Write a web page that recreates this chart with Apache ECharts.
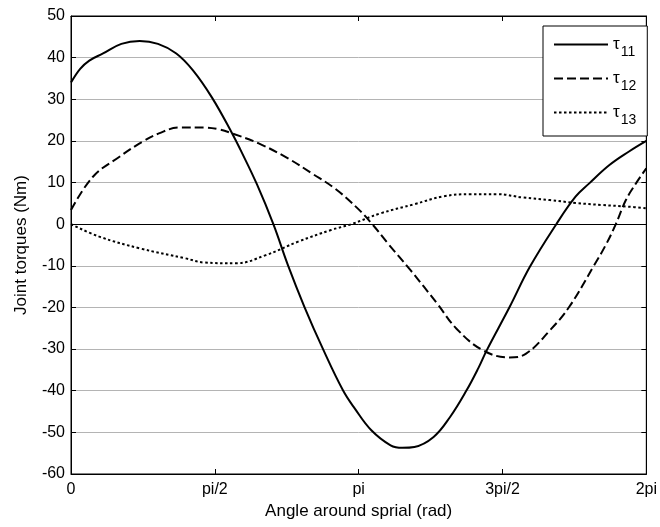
<!DOCTYPE html>
<html>
<head>
<meta charset="utf-8">
<script src="https://cdn.jsdelivr.net/npm/echarts@6/dist/echarts.min.js"></script>
<style>html,body{margin:0;padding:0;background:#fff}#c{width:660px;height:527px}</style>
</head>
<body>
<div id="c"></div>
<script>
const seriesNames = ['τ11', 'τ12', 'τ13'];
const xTickLabels = ['0', 'pi/2', 'pi', '3pi/2', '2pi'];
const yTicks = [-60, -50, -40, -30, -20, -10, 0, 10, 20, 30, 40, 50];

// angle (rad) and torque (Nm) for each joint
const tau11X = [0, 0.10, 0.20, 0.35, 0.55, 0.75, 0.95, 1.15, 1.33, 1.54, 1.76, 1.85, 2.03, 2.21, 2.37, 2.55, 2.75, 2.97, 3.10, 3.28, 3.49, 3.62, 3.75, 3.96, 4.14, 4.32, 4.45, 4.54, 4.79, 5.01, 5.30, 5.51, 5.66, 5.88, 6.09, 6.283];
const tau11Y = [34.0, 37.3, 39.3, 41.0, 43.3, 44.0, 43.3, 41.0, 37.0, 30.4, 21.8, 17.9, 9.6, 0.0, -9.9, -19.9, -29.9, -39.9, -44.3, -49.5, -53.1, -53.7, -53.5, -51.1, -46.3, -39.9, -34.5, -30.3, -19.9, -10.3, 0.0, 6.6, 9.8, 14.2, 17.4, 20.0];

const tau12X = [0, 0.24, 0.53, 0.78, 0.96, 1.18, 1.47, 1.61, 1.76, 2.05, 2.37, 2.63, 2.88, 3.13, 3.29, 3.46, 3.71, 4.00, 4.21, 4.50, 4.79, 4.97, 5.23, 5.44, 5.71, 5.84, 5.95, 6.06, 6.17, 6.283];
const tau12Y = [3.4, 11.4, 16.2, 19.8, 21.8, 23.2, 23.2, 22.8, 21.8, 19.4, 15.8, 12.2, 8.6, 3.8, 0.0, -4.6, -11.1, -19.1, -25.1, -30.3, -32.0, -31.1, -25.5, -19.9, -10.0, -5.0, 0.0, 5.8, 9.8, 13.4];

const tau13X = [0, 0.31, 0.75, 1.25, 1.45, 1.80, 2.12, 2.48, 2.84, 3.06, 3.38, 3.75, 4.07, 4.36, 4.65, 4.94, 5.23, 5.51, 5.80, 6.09, 6.283];
const tau13Y = [0.0, -3.0, -5.8, -8.2, -9.2, -9.4, -7.5, -4.2, -1.4, 0.0, 2.6, 4.8, 6.7, 7.2, 7.2, 6.4, 5.8, 5.1, 4.6, 4.2, 3.8];

const zip = (xs, ys) => xs.map((x, i) => [x, ys[i]]);
const FONT = 'Liberation Sans, Arial, sans-serif';
const HALF_PI = Math.PI / 2;
const xFmt = v => {
  const k = Math.round(v / HALF_PI);
  return Math.abs(v - k * HALF_PI) < 1e-6 ? (xTickLabels[k] || '') : '';
};

const chart = echarts.init(document.getElementById('c'), null, {renderer: 'canvas'});
const lineTypes = ['solid', [9, 4], [2.5, 2.5]];
const datasets = [zip(tau11X, tau11Y), zip(tau12X, tau12Y), zip(tau13X, tau13Y)];

const series = seriesNames.map((n, i) => ({
  name: n,
  type: 'line',
  data: datasets[i],
  smooth: 0.4,
  symbol: 'none',
  showSymbol: false,
  lineStyle: {color: '#000', width: 2, type: lineTypes[i]},
  itemStyle: {color: '#000'},
  z: 5
}));
series[0].markLine = {
  silent: true,
  symbol: 'none',
  label: {show: false},
  lineStyle: {color: '#000', width: 1, type: 'solid'},
  data: [{yAxis: 0}],
  z: 3
};

chart.setOption({
  animation: false,
  backgroundColor: '#fff',
  grid: {left: 71, right: 9, top: 16, bottom: 53, show: true, borderColor: '#000', borderWidth: 1, backgroundColor: 'transparent'},
  legend: {
    orient: 'vertical',
    left: 543,
    top: 26,
    padding: [10, 11, 9, 10],
    itemGap: 11,
    itemWidth: 54,
    itemHeight: 14,
    itemTextGap: 8,
    backgroundColor: '#fff',
    borderColor: '#000',
    borderWidth: 1,
    borderRadius: 0,
    itemStyle: {opacity: 0},
    data: seriesNames,
    formatter: n => '{t|' + n.charAt(0) + '}{s|' + n.slice(1) + '}',
    textStyle: {
      color: '#000',
      fontFamily: FONT,
      rich: {
        t: {fontSize: 17, fontFamily: FONT, color: '#000'},
        s: {fontSize: 14, fontFamily: FONT, color: '#000', padding: [15, 0, 0, 1]}
      }
    }
  },
  xAxis: [{
    type: 'value',
    min: 0,
    max: 2 * Math.PI,
    interval: HALF_PI,
    name: 'Angle around sprial (rad)',
    nameLocation: 'middle',
    nameGap: 29,
    nameTextStyle: {color: '#000', fontSize: 17, fontFamily: FONT},
    axisLine: {show: true, onZero: false, lineStyle: {color: '#000', width: 1}},
    axisTick: {show: true, inside: true, length: 5, lineStyle: {color: '#000'}},
    axisLabel: {color: '#000', fontSize: 16, fontFamily: FONT, margin: 8, formatter: xFmt, showMaxLabel: true, showMinLabel: true},
    splitLine: {show: false}
  }, {
    type: 'value',
    position: 'top',
    min: 0,
    max: 2 * Math.PI,
    interval: HALF_PI,
    axisLine: {show: true, onZero: false, lineStyle: {color: '#000', width: 1}},
    axisTick: {show: true, inside: true, length: 5, lineStyle: {color: '#000'}},
    axisLabel: {show: false},
    splitLine: {show: false}
  }],
  yAxis: [{
    type: 'value',
    min: yTicks[0],
    max: yTicks[yTicks.length - 1],
    interval: 10,
    name: 'Joint torques (Nm)',
    nameLocation: 'middle',
    nameGap: 41,
    nameTextStyle: {color: '#000', fontSize: 17, fontFamily: FONT},
    axisLine: {show: true, onZero: false, lineStyle: {color: '#000', width: 1}},
    axisTick: {show: true, inside: true, length: 5, lineStyle: {color: '#000'}},
    axisLabel: {color: '#000', fontSize: 16, fontFamily: FONT, margin: 6},
    splitLine: {show: true, lineStyle: {color: '#b4b4b4', width: 1, type: 'solid'}}
  }, {
    type: 'value',
    position: 'right',
    min: yTicks[0],
    max: yTicks[yTicks.length - 1],
    interval: 10,
    axisLine: {show: true, onZero: false, lineStyle: {color: '#000', width: 1}},
    axisTick: {show: true, inside: true, length: 5, lineStyle: {color: '#000'}},
    axisLabel: {show: false},
    splitLine: {show: false}
  }],
  series: series
});
</script>
</body>
</html>
